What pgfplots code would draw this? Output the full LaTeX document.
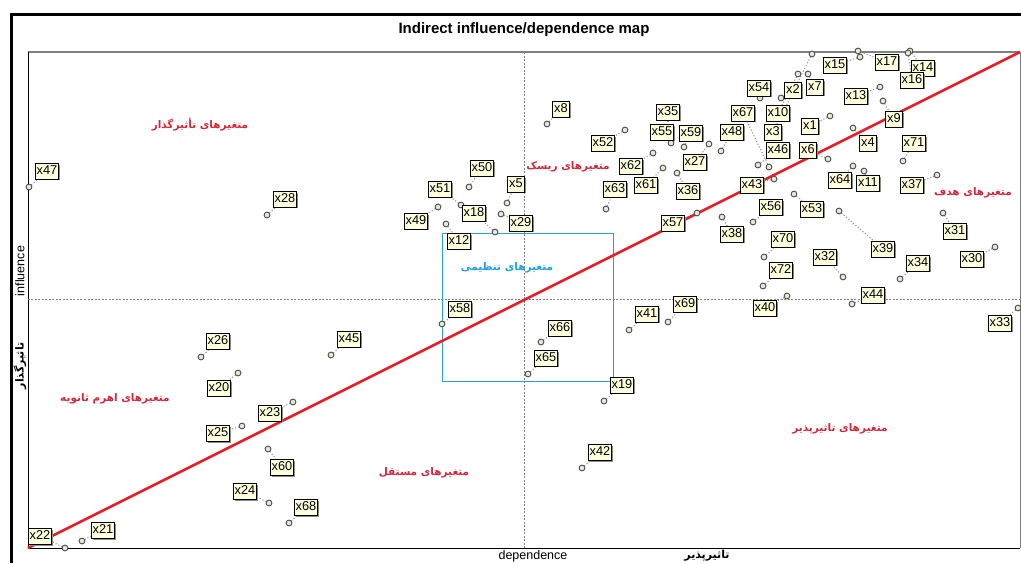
\documentclass[border=0pt]{standalone}
\usepackage{fontspec}
\usepackage{pgfplots}
\usepackage{pgfplotstable}
\pgfplotsset{compat=1.18}
\usetikzlibrary{shadows}
\setmainfont{Liberation Sans}
\newfontfamily\arabicfont[Script=Arabic]{DejaVu Sans}
\TeXXeTstate=1
\definecolor{lblfill}{RGB}{255,255,221}
\definecolor{ptfill}{RGB}{232,232,215}
\definecolor{redtxt}{RGB}{212,40,57}
\definecolor{bluetxt}{RGB}{30,160,230}
\definecolor{boxblue}{RGB}{40,160,220}
\definecolor{diagred}{RGB}{236,28,36}

\pgfplotstableread{
name x y lx ly
x1 830 447 810 437
x2 781 465 793 473
x3 812 509 773 431
x4 853 435 868 420
x5 507 360 516 379
x6 828 404 808 413
x7 808 489 815 476
x8 547 439 561 454
x9 883 462 894 444
x10 798 489 778 450
x11 864 392 868 380
x12 446 339 459 322
x13 880 476 856 467
x14 910 512 923 495
x15 860 506 835 498
x16 908 510 912 483
x17 858 512 887 501
x18 495 331 474 350
x19 604 162 622 178
x20 238 190 219 175
x21 82 22 103 33
x22 65 15 40 27
x23 293 161 270 150
x24 269 60 245 72
x25 242 137 218 130
x26 201 206 218 222
x27 709 419 695 401
x28 267 348 285 364
x29 501 349 521 340
x30 995 316 972 304
x31 943 350 955 332
x32 843 286 825 306
x33 1018 255 1000 240
x34 900 284 918 300
x35 668 435 668 451
x36 677 390 688 372
x37 937 388 912 378
x38 722 346 732 329
x39 839 352 883 314
x40 787 267 765 255
x41 629 233 647 249
x42 582 95 600 111
x43 774 384 752 378
x44 852 259 873 268
x45 331 208 349 224
x46 758 398 778 413
x47 29 376 47 392
x48 721 412 732 431
x49 438 356 416 342
x50 469 376 482 395
x51 461 358 440 374
x52 625 433 603 420
x53 794 369 812 354
x54 760 465 759 475
x55 671 420 662 431
x56 753 341 771 356
x57 697 350 673 340
x58 442 239 460 254
x59 684 416 691 430
x60 268 114 282 96
x61 663 395 646 378
x62 653 410 631 397
x63 606 354 615 374
x64 853 397 840 383
x65 528 189 546 205
x66 541 221 560 235
x67 769 396 743 450
x68 289 40 306 56
x69 668 241 685 259
x70 764 306 783 324
x71 903 402 914 420
x72 763 277 781 293
}\vars

\begin{document}
\begin{tikzpicture}
\begin{axis}[
  scale only axis, width=992pt, height=496pt,
  xmin=28, xmax=1020, ymin=15, ymax=511,
  hide axis, clip=false]
\coordinate (BL) at (axis cs:0,0);
\coordinate (TR) at (axis cs:1021,563);
% outer frame
\draw[black, line width=3.5pt] (axis cs:11.3,0) -- (axis cs:11.3,548.5) -- (axis cs:1021,548.5);
% plot frame
\draw[gray, line width=1.4pt] (axis cs:28,511) -- (axis cs:1020,511);
\draw[black, line width=0.8pt] (axis cs:28,511) -- (axis cs:28,15) -- (axis cs:1020,15);
\draw[gray, line width=0.8pt] (axis cs:1020,15) -- (axis cs:1020,511);
% mid lines
\addplot[gray, line width=0.6pt, dash pattern=on 2pt off 1.5pt] coordinates {(524,15) (524,511)};
\addplot[gray, line width=0.6pt, dash pattern=on 2pt off 1.5pt] coordinates {(28,264) (1020,264)};
% blue box
\addplot[boxblue, line width=0.8pt] coordinates {(442,330) (613,330) (613,182) (442,182) (442,330)};
% leader lines
\addplot[gray!85, dotted, line width=1.1pt, quiver={u=\thisrow{lx}-\thisrow{x}, v=\thisrow{ly}-\thisrow{y}}] table[x=x, y=y] {\vars};
% points
\addplot[only marks, mark=*, mark size=2.9pt, mark options={draw=black!70, fill=ptfill, line width=0.9pt}] table[x=x, y=y] {\vars};
% labels
\addplot[draw=none, mark=none, nodes near coords, point meta=explicit symbolic,
  nodes near coords style={anchor=center, draw=black, line width=0.7pt, fill=lblfill, text=black,
    font=\fontsize{12.8}{13}\selectfont, inner xsep=1.5pt, inner ysep=2pt, text height=9.2pt, text depth=2.6pt,
    drop shadow={shadow xshift=1.6pt, shadow yshift=-1.6pt, fill=black!45, opacity=1}}]
  table[x=lx, y=ly, meta=name] {\vars};
% diagonal
\addplot[diagred, line width=2.6pt] coordinates {(28,15) (1020,511)};
% title and axis labels
\node[font=\bfseries\fontsize{15}{17}\selectfont] at (axis cs:524,533) {Indirect influence/dependence map};
\node[rotate=90, font=\fontsize{12.5}{14}\selectfont] at (axis cs:20,292) {influence};
\node[font=\fontsize{12.5}{14}\selectfont] at (axis cs:533,7) {dependence};
\node[rotate=90, font=\arabicfont\bfseries\fontsize{11}{13}\selectfont] at (axis cs:20,197) {\beginR تاثیرگذار\endR};
\node[font=\arabicfont\bfseries\fontsize{11}{13}\selectfont] at (axis cs:707,7) {\beginR تاثیرپذیر\endR};
% quadrant texts
\node[text=redtxt, font=\arabicfont\bfseries\fontsize{10.5}{12}\selectfont] at (axis cs:200,438) {\beginR متغیرهای تأثیرگذار\endR};
\node[text=redtxt, font=\arabicfont\bfseries\fontsize{10.5}{12}\selectfont] at (axis cs:568,396) {\beginR متغیرهای ریسک\endR};
\node[text=redtxt, font=\arabicfont\bfseries\fontsize{10.5}{12}\selectfont] at (axis cs:973,370) {\beginR متغیرهای هدف\endR};
\node[text=bluetxt, font=\arabicfont\bfseries\fontsize{10.5}{12}\selectfont] at (axis cs:507,295) {\beginR متغیرهای تنظیمی\endR};
\node[text=redtxt, font=\arabicfont\bfseries\fontsize{10.5}{12}\selectfont] at (axis cs:115,164) {\beginR متغیرهای اهرم ثانویه\endR};
\node[text=redtxt, font=\arabicfont\bfseries\fontsize{10.5}{12}\selectfont] at (axis cs:424,90) {\beginR متغیرهای مستقل\endR};
\node[text=redtxt, font=\arabicfont\bfseries\fontsize{10.5}{12}\selectfont] at (axis cs:840,134) {\beginR متغیرهای تاثیرپذیر\endR};
\end{axis}
\pgfresetboundingbox
\path (BL) rectangle (TR);
\end{tikzpicture}
\end{document}
